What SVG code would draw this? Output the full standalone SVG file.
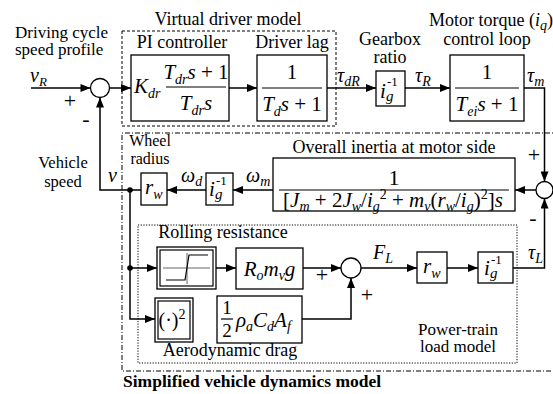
<svg xmlns="http://www.w3.org/2000/svg" width="553" height="394" viewBox="0 0 553 394">
<defs>
<style>
.t{font-family:"Liberation Serif","Times New Roman",serif;font-size:18px;fill:#000}
.t2{font-family:"Liberation Serif","Times New Roman",serif;font-size:17px;fill:#000}
.b{font-family:"Liberation Serif","Times New Roman",serif;font-size:17.5px;font-weight:bold;fill:#000}
.m{font-family:"Liberation Serif","Times New Roman",serif;font-style:italic;font-size:21px;fill:#000}
.u{font-style:normal}
.s{font-size:14px}
.blk{fill:#fff;stroke:#000;stroke-width:1.3}
.ln{fill:none;stroke:#000;stroke-width:1.5}
.sum{fill:#fff;stroke:#000;stroke-width:1.3}
.dash{fill:none;stroke:#000;stroke-width:1;stroke-dasharray:3,2}
.dd{fill:none;stroke:#000;stroke-width:1;stroke-dasharray:5,2,1,2}
.dot{fill:none;stroke:#000;stroke-width:1;stroke-dasharray:1.2,1.5}
</style>
<marker id="ah" viewBox="0 0 10 8" refX="10" refY="4" markerWidth="11" markerHeight="8" orient="auto" markerUnits="userSpaceOnUse"><path d="M0,0 L10,4 L0,8 z" fill="#000"/></marker>
</defs>
<rect width="553" height="394" fill="#fff"/>

<!-- frames -->
<g id="frames">
<rect class="dash" x="122" y="31" width="214" height="95"/>
<path class="dd" d="M560,133 H122 V371 H560"/>
<rect class="dot" x="138" y="225" width="379" height="138"/>
</g>

<!-- connectors -->
<g id="connectors">
<path class="ln" d="M31,88 H90.5" marker-end="url(#ah)"/>
<path class="ln" d="M109.5,88 H131" marker-end="url(#ah)"/>
<path class="ln" d="M229,88 H257" marker-end="url(#ah)"/>
<path class="ln" d="M327,88 H376" marker-end="url(#ah)"/>
<path class="ln" d="M405,88 H450" marker-end="url(#ah)"/>
<path class="ln" d="M524,88 H544.5 V181.5" marker-end="url(#ah)"/>
<path class="ln" d="M536,190 H515" marker-end="url(#ah)"/>
<path class="ln" d="M273,190 H233" marker-end="url(#ah)"/>
<path class="ln" d="M206,190 H167" marker-end="url(#ah)"/>
<path class="ln" d="M141,190 H100 V97.5" marker-end="url(#ah)"/>
<path class="ln" d="M130,190 V319 H155" marker-end="url(#ah)"/>
<path class="ln" d="M130,268 H157" marker-end="url(#ah)"/>
<path class="ln" d="M216,268 H236" marker-end="url(#ah)"/>
<path class="ln" d="M303,268 H341" marker-end="url(#ah)"/>
<path class="ln" d="M302,319 H351 V278" marker-end="url(#ah)"/>
<path class="ln" d="M361,268 H417" marker-end="url(#ah)"/>
<path class="ln" d="M447,268 H478" marker-end="url(#ah)"/>
<path class="ln" d="M513,268 H544.5 V198.5" marker-end="url(#ah)"/>
<circle cx="130" cy="190" r="2.8" fill="#000"/>
<circle cx="130" cy="268" r="2.8" fill="#000"/>
</g>

<!-- summing junctions -->
<g id="sum1"><circle class="sum" cx="100" cy="88" r="9.5"/></g>
<g id="sum2"><circle class="sum" cx="544.5" cy="190" r="8.5"/></g>
<g id="sum3"><circle class="sum" cx="351" cy="268" r="10"/></g>

<!-- PI controller -->
<g id="pi">
<rect class="blk" x="131" y="55" width="98" height="66"/>
<text class="m" x="134" y="93">K<tspan class="s" dy="5">dr</tspan></text>
<line x1="166" y1="87" x2="226" y2="87" stroke="#000" stroke-width="1.2"/>
<text class="m" x="196" y="79" text-anchor="middle">T<tspan class="s" dy="5">dr</tspan><tspan dy="-5">s</tspan><tspan class="u"> + 1</tspan></text>
<text class="m" x="196" y="110" text-anchor="middle">T<tspan class="s" dy="5">dr</tspan><tspan dy="-5">s</tspan></text>
</g>

<!-- Driver lag -->
<g id="lag">
<rect class="blk" x="257" y="55" width="70" height="66"/>
<text class="m u" x="292" y="79" text-anchor="middle">1</text>
<line x1="262" y1="88" x2="322" y2="88" stroke="#000" stroke-width="1.2"/>
<text class="m" x="292" y="111" text-anchor="middle">T<tspan class="s" dy="5">d</tspan><tspan dy="-5">s</tspan><tspan class="u"> + 1</tspan></text>
</g>

<!-- Gearbox -->
<g id="gear">
<rect class="blk" x="376" y="71" width="29" height="35"/>
<text class="m" x="380" y="98">i<tspan x="386" y="101" style="font-size:15px">g</tspan><tspan class="u" x="387" y="86" style="font-size:13px">-1</tspan></text>
</g>

<!-- Motor torque loop -->
<g id="motor">
<rect class="blk" x="450" y="55" width="74" height="66"/>
<text class="m u" x="487" y="79" text-anchor="middle">1</text>
<line x1="455" y1="88" x2="519" y2="88" stroke="#000" stroke-width="1.2"/>
<text class="m" x="487" y="111" text-anchor="middle">T<tspan class="s" dy="5">ei</tspan><tspan dy="-5">s</tspan><tspan class="u"> + 1</tspan></text>
</g>

<!-- Overall inertia -->
<g id="inertia">
<rect class="blk" x="273" y="158" width="242" height="53"/>
<text class="m u" x="394" y="185" text-anchor="middle" style="font-size:22px">1</text>
<line x1="279" y1="190" x2="509" y2="190" stroke="#000" stroke-width="1.2"/>
<text class="m" x="393" y="207" text-anchor="middle"><tspan class="u">[</tspan>J<tspan class="s" dy="4">m</tspan><tspan class="u" dy="-4"> + 2</tspan>J<tspan class="s" dy="4">w</tspan><tspan class="u" dy="-4">/</tspan>i<tspan class="s" dy="4">g</tspan><tspan class="s u" dy="-12">2</tspan><tspan class="u" dy="8"> + </tspan>m<tspan class="s" dy="4">v</tspan><tspan class="u" dy="-4">(</tspan>r<tspan class="s" dy="4">w</tspan><tspan class="u" dy="-4">/</tspan>i<tspan class="s" dy="4">g</tspan><tspan class="u" dy="-4">)</tspan><tspan class="s u" dy="-8">2</tspan><tspan class="u" dy="8">]</tspan>s</text>
</g>

<!-- inverse gear (speed) -->
<g id="gear2">
<rect class="blk" x="206" y="173" width="27" height="32"/>
<text class="m" x="209" y="196">i<tspan x="215" y="199" style="font-size:15px">g</tspan><tspan class="u" x="216" y="185" style="font-size:13px">-1</tspan></text>
</g>

<!-- wheel radius -->
<g id="rw1">
<rect class="blk" x="141" y="173" width="26" height="32"/>
<text class="m" x="145" y="194">r<tspan class="s" dy="5">w</tspan></text>
</g>

<!-- Rolling resistance sign block -->
<g id="sign">
<rect class="blk" x="157" y="247" width="59" height="42"/>
<rect x="160" y="250" width="53" height="36" fill="none" stroke="#000" stroke-width="1.2"/>
<path d="M163,268 H210 M187,253 V284" stroke="#666" stroke-width="1" fill="none"/>
<path d="M166,280 H185 L189,255 H208" stroke="#000" stroke-width="1.2" fill="none"/>
</g>

<!-- Rolling resistance gain -->
<g id="roll">
<rect class="blk" x="236" y="248" width="67" height="41"/>
<text class="m" x="269.5" y="276" text-anchor="middle">R<tspan class="s" dy="4">o</tspan><tspan dy="-4">m</tspan><tspan class="s" dy="4">v</tspan><tspan dy="-4">g</tspan></text>
</g>

<!-- square block -->
<g id="sq">
<rect class="blk" x="155" y="298" width="38" height="44"/>
<rect x="158" y="301" width="32" height="38" fill="none" stroke="#000" stroke-width="1.2"/>
<text class="t" x="172" y="327" text-anchor="middle" style="font-size:20px">(·)<tspan dy="-8" style="font-size:14px">2</tspan></text>
</g>

<!-- aero drag gain -->
<g id="aero">
<rect class="blk" x="217" y="296" width="85" height="47"/>
<text class="t" x="227" y="314" text-anchor="middle" style="font-size:19px">1<tspan x="227" y="337">2</tspan></text>
<line x1="221" y1="319" x2="233" y2="319" stroke="#000" stroke-width="1.2"/>
<text class="m" x="236" y="327">ρ<tspan class="s" dy="4">a</tspan><tspan dy="-4">C</tspan><tspan class="s" dy="4">d</tspan><tspan dy="-4">A</tspan><tspan class="s" dy="4">f</tspan></text>
</g>

<!-- load side wheel radius -->
<g id="rw2">
<rect class="blk" x="417" y="252" width="30" height="31"/>
<text class="m" x="423" y="273">r<tspan class="s" dy="5">w</tspan></text>
</g>

<!-- load side inverse gear -->
<g id="gear3">
<rect class="blk" x="478" y="252" width="35" height="31"/>
<text class="m" x="484" y="275">i<tspan x="490" y="278" style="font-size:15px">g</tspan><tspan class="u" x="491" y="264" style="font-size:13px">-1</tspan></text>
</g>

<!-- labels -->
<g id="labels">
<text class="t" x="228" y="25" text-anchor="middle">Virtual driver model</text>
<text class="t2" x="15" y="38">Driving cycle<tspan x="15" y="55">speed profile</tspan></text>
<text class="t" x="182" y="48" text-anchor="middle">PI controller</text>
<text class="t" x="292" y="48" text-anchor="middle">Driver lag</text>
<text class="t" x="390" y="45" text-anchor="middle">Gearbox<tspan x="390" y="63">ratio</tspan></text>
<text class="t" x="491" y="26" text-anchor="middle">Motor torque (<tspan font-style="italic">i</tspan><tspan class="s" font-style="italic" dy="4">q</tspan><tspan dy="-4">)</tspan></text>
<text class="t" x="487" y="45" text-anchor="middle">control loop</text>
<text class="m" x="30" y="82" style="font-size:20px">v<tspan class="s" dy="4" style="font-size:13px">R</tspan></text>
<text class="t" x="70" y="108" text-anchor="middle" style="font-size:22px">+</text>
<text class="t" x="86" y="126" text-anchor="middle" style="font-size:22px">-</text>
<text class="m" x="337" y="82" style="font-size:20px">τ<tspan class="s" dy="4">dR</tspan></text>
<text class="m" x="415" y="82" style="font-size:20px">τ<tspan class="s" dy="4">R</tspan></text>
<text class="m" x="527" y="82" style="font-size:20px">τ<tspan class="s" dy="4">m</tspan></text>
<text class="t" x="394" y="153" text-anchor="middle">Overall inertia at motor side</text>
<text class="t" x="534" y="162" text-anchor="middle" style="font-size:22px">+</text>
<text class="t" x="533" y="225" text-anchor="middle" style="font-size:22px">-</text>
<text class="t2" x="150" y="146" text-anchor="middle" style="font-size:16px">Wheel<tspan x="150" y="164">radius</tspan></text>
<text class="t2" x="63" y="168" text-anchor="middle" style="font-size:16.5px">Vehicle<tspan x="63" y="187">speed</tspan></text>
<text class="m" x="108" y="182" style="font-size:20px">v</text>
<text class="m" x="181" y="182" style="font-size:20px">ω<tspan class="s" dy="4">d</tspan></text>
<text class="m" x="246" y="182" style="font-size:20px">ω<tspan class="s" dy="4">m</tspan></text>
<text class="t" x="223" y="238" text-anchor="middle">Rolling resistance</text>
<text class="m" x="373" y="259" style="font-size:20px">F<tspan class="s" dy="4">L</tspan></text>
<text class="m" x="528" y="259" style="font-size:20px">τ<tspan class="s" dy="4">L</tspan></text>
<text class="t" x="322" y="282" text-anchor="middle" style="font-size:22px">+</text>
<text class="t" x="367" y="302" text-anchor="middle" style="font-size:22px">+</text>
<text class="t" x="230" y="356" text-anchor="middle">Aerodynamic drag</text>
<text class="t2" x="458" y="335" text-anchor="middle">Power-train<tspan x="458" y="352">load model</tspan></text>
<text class="b" x="123" y="387">Simplified vehicle dynamics model</text>
</g>
</svg>
